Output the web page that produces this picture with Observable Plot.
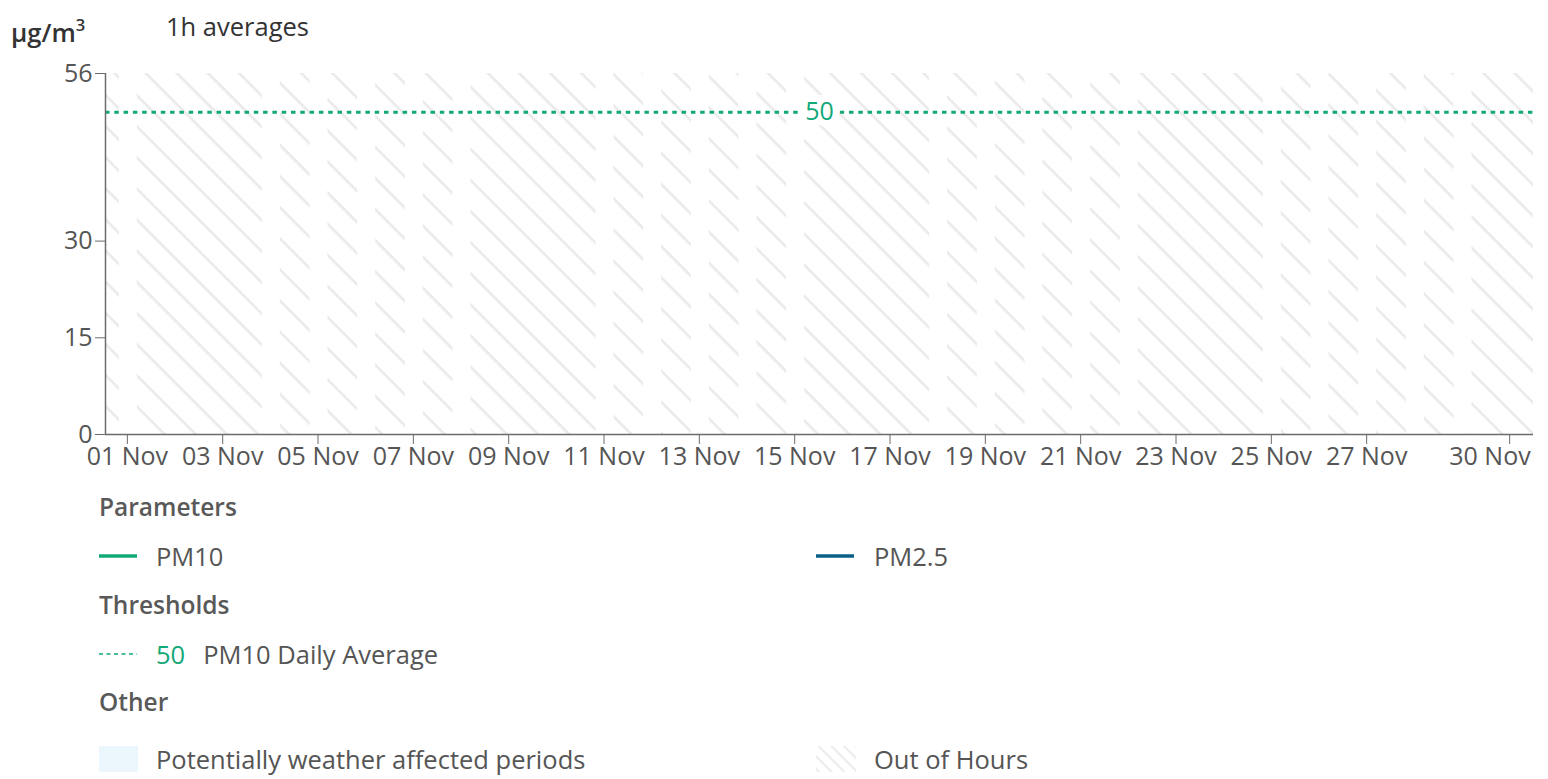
<!DOCTYPE html>
<html>
<head>
<meta charset="utf-8">
<script src="https://cdn.jsdelivr.net/npm/d3@7"></script>
<script src="https://cdn.jsdelivr.net/npm/@observablehq/plot@0.6"></script>
<style>
  body { margin: 0; background: #fff; font-family: "Open Sans", Lato, sans-serif; }
  #wrap { position: relative; width: 1548px; height: 779px; overflow: hidden; }
  .abs { position: absolute; white-space: nowrap; line-height: 34px; }
  .title { font-size: 25.5px; color: #333; }
  .head { font-size: 24.5px; font-weight: 600; color: #595959; }
  .item { font-size: 25.5px; color: #555; }
  #chart { position: absolute; left: 0; top: 50px; }
</style>
</head>
<body>
<div id="wrap">
  <div id="chart"></div>
</div>
<script>
// ---------- data ----------
const unitText = "µg/m";
const unitSup = "3";
const averagingText = "1h averages";
const xDomain = ["2024-11-01T01:00:00Z", "2024-12-01T00:00:00Z"];
const tickDays = ["2024-11-01","2024-11-03","2024-11-05","2024-11-07","2024-11-09","2024-11-11","2024-11-13",
                  "2024-11-15","2024-11-17","2024-11-19","2024-11-21","2024-11-23","2024-11-25","2024-11-27","2024-11-30"];
const yMax = 56;
const yTicks = [0, 15, 30, 56];
const pm10 = [];   // no readings shown
const pm25 = [];   // no readings shown
const weatherPeriods = []; // none shown
const thresholdValue = 50;
const thresholdName = "PM10 Daily Average";
const outStart = ["2024-11-01T01:00Z","2024-11-01T17:00Z","2024-11-04T17:00Z","2024-11-05T17:00Z","2024-11-06T17:00Z",
  "2024-11-07T17:00Z","2024-11-08T17:00Z","2024-11-11T17:00Z","2024-11-12T17:00Z","2024-11-13T17:00Z","2024-11-14T17:00Z",
  "2024-11-15T17:00Z","2024-11-18T17:00Z","2024-11-19T17:00Z","2024-11-20T17:00Z","2024-11-21T17:00Z","2024-11-22T17:00Z",
  "2024-11-25T17:00Z","2024-11-26T17:00Z","2024-11-27T17:00Z","2024-11-28T17:00Z","2024-11-29T17:00Z"];
const outEnd = ["2024-11-01T08:00Z","2024-11-04T08:00Z","2024-11-05T08:00Z","2024-11-06T08:00Z","2024-11-07T08:00Z",
  "2024-11-08T08:00Z","2024-11-11T08:00Z","2024-11-12T08:00Z","2024-11-13T08:00Z","2024-11-14T08:00Z","2024-11-15T08:00Z",
  "2024-11-18T08:00Z","2024-11-19T08:00Z","2024-11-20T08:00Z","2024-11-21T08:00Z","2024-11-22T08:00Z","2024-11-25T08:00Z",
  "2024-11-26T08:00Z","2024-11-27T08:00Z","2024-11-28T08:00Z","2024-11-29T08:00Z","2024-12-01T00:00Z"];
const legendParams = ["PM10", "PM2.5"];

// ---------- styles ----------
const GREEN = "#12a878";
const BLUE = "#0d5f8a";
const AXIS = "#6b6b6b";
const LABEL = "#555";
const FS = 25;

const x0 = new Date(xDomain[0]), x1 = new Date(xDomain[1]);
const outOfHours = outStart.map((s, i) => ({start: new Date(s), end: new Date(outEnd[i])}));
const ticks = tickDays.map(d => new Date(d + "T12:00:00Z"));
const firstTicks = ticks.slice(0, -1);
const lastTick = ticks.slice(-1);
const mid = new Date((+x0 + +x1) / 2);
const fmt = d3.utcFormat("%d %b");

const plot = Plot.plot({
  width: 1548,
  height: 429,
  marginLeft: 105,
  marginRight: 15,
  marginTop: 23,
  marginBottom: 45,
  style: {fontFamily: "'Open Sans', Lato, sans-serif", fontSize: FS + "px", color: LABEL, background: "transparent", overflow: "visible"},
  x: {type: "utc", domain: [x0, x1]},
  y: {domain: [0, yMax]},
  marks: [
    Plot.rect(outOfHours, {x1: "start", x2: "end", y1: 0, y2: yMax, fill: "url(#hatch)"}),
    Plot.rect(weatherPeriods, {x1: "start", x2: "end", y1: 0, y2: yMax, fill: "#ebf6fd"}),
    Plot.line(pm10, {x: "date", y: "value", stroke: GREEN, strokeWidth: 2}),
    Plot.line(pm25, {x: "date", y: "value", stroke: BLUE, strokeWidth: 2}),
    Plot.ruleY([thresholdValue], {stroke: GREEN, strokeWidth: 3, strokeDasharray: "4.5,4.8"}),
    Plot.text([thresholdValue], {x: () => mid, y: d => d, text: d => String(d), fill: GREEN,
      stroke: "white", strokeWidth: 14, strokeLinejoin: "miter", fontSize: FS}),
    Plot.ruleX([x0], {stroke: AXIS, strokeWidth: 1.5}),
    Plot.ruleY([0], {stroke: AXIS, strokeWidth: 1.5}),
    // tick marks
    Plot.axisX({ticks, tickSize: 10, label: null, stroke: AXIS, fill: "none"}),
    // tick labels (last one kept inside the plot's right edge)
    Plot.axisX({ticks: firstTicks, tickFormat: fmt, tickSize: 0, tickPadding: 13, label: null, fill: LABEL}),
    Plot.axisX({ticks: lastTick, tickFormat: fmt, tickSize: 0, tickPadding: 13, label: null, fill: LABEL, textAnchor: "end", dx: 21}),
    Plot.axisY({ticks: yTicks, tickSize: 10, tickPadding: 3, label: null, stroke: AXIS, fill: LABEL})
  ]
});

// hatch pattern definition
const svgNS = "http://www.w3.org/2000/svg";
const defs = document.createElementNS(svgNS, "defs");
defs.innerHTML = `<pattern id="hatch" patternUnits="userSpaceOnUse" width="10" height="22" patternTransform="rotate(45)">
  <rect x="0" y="0" width="10" height="2.6" fill="#eaeaea"></rect></pattern>`;
plot.insertBefore(defs, plot.firstChild);
document.getElementById("chart").appendChild(plot);

// ---------- title & legend ----------
const wrap = document.getElementById("wrap");
function addDiv(cls, left, cy, html, extra = "") {
  const d = document.createElement("div");
  d.className = "abs " + cls;
  d.style.left = left + "px";
  d.style.top = (cy - 17) + "px";
  if (extra) d.style.cssText += extra;
  d.innerHTML = html;
  wrap.appendChild(d);
  return d;
}
addDiv("title", 11, 26, `${unitText}<sup style="font-size:0.65em;position:relative;top:-0.05em;">${unitSup}</sup>`, "font-weight:600;");
addDiv("title", 166, 26, averagingText);

addDiv("head", 99, 507, "Parameters");
function lineSwatch(left, cy, color, dash, w) {
  return addDiv("", left, cy, `<svg width="38" height="34" style="display:block"><line x1="0" x2="38" y1="17" y2="17" stroke="${color}" stroke-width="${w}" ${dash ? `stroke-dasharray="${dash}"` : ""}/></svg>`);
}
lineSwatch(99, 556, GREEN, null, 3.5);
addDiv("item", 156, 556, legendParams[0]);
lineSwatch(816, 556, BLUE, null, 3.5);
addDiv("item", 874, 556, legendParams[1]);

addDiv("head", 99, 605, "Thresholds");
lineSwatch(99, 654, GREEN, "4,3.5", 1.3);
addDiv("item", 156, 654, `<span style="color:${GREEN}">${thresholdValue}</span><span style="margin-left:18px">${thresholdName}</span>`);

addDiv("head", 99, 702, "Other");
addDiv("", 99, 759, `<svg width="40" height="34" style="display:block"><rect x="0" y="4" width="39" height="26" fill="#ebf6fd"/></svg>`);
addDiv("item", 156, 759, "Potentially weather affected periods");
addDiv("", 816, 759, `<svg width="40" height="34" style="display:block"><defs><pattern id="hatchS" patternUnits="userSpaceOnUse" width="10" height="9" patternTransform="rotate(45)"><rect x="0" y="0" width="10" height="2.2" fill="#ececec"/></pattern></defs><rect x="0" y="4" width="40" height="26" fill="url(#hatchS)"/></svg>`);
addDiv("item", 874, 759, "Out of Hours");
</script>
</body>
</html>
